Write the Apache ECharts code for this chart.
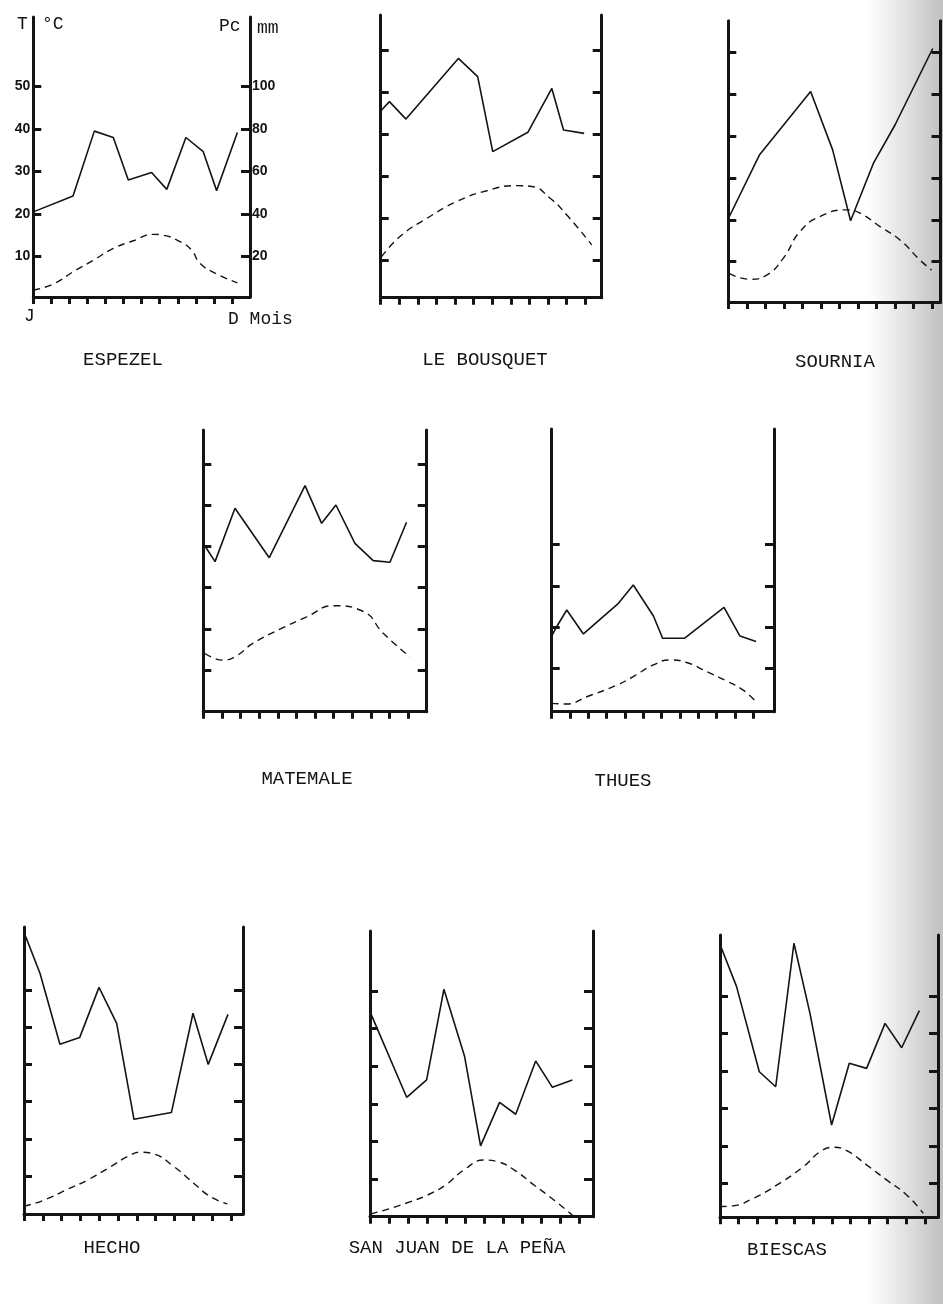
<!DOCTYPE html>
<html><head><meta charset="utf-8">
<script src="https://cdn.jsdelivr.net/npm/echarts@6/dist/echarts.min.js"></script>
<style>html,body{margin:0;padding:0;background:#fff}#c{width:943px;height:1304px}</style>
</head><body><div id="c"></div>
<script>
// ---- data (x = month position, J = 0 ... D = 11; precipitation in mm, temperature in °C) ----
const STATIONS = ['ESPEZEL','LE BOUSQUET','SOURNIA','MATEMALE','THUES','HECHO','SAN JUAN DE LA PEÑA','BIESCAS'];

const ESPEZEL_P_X = [0, 2.2, 3.38, 4.43, 5.26, 6.55, 7.39, 8.45, 9.41, 10.15, 11.3];
const ESPEZEL_P   = [41, 48.5, 79, 76, 56, 59.5, 51.6, 76, 69.3, 51, 78.4];
const ESPEZEL_T_X = [0, 1.1, 2.2, 3.36, 4.43, 5.54, 6.64, 7.2, 8.12, 8.77, 9.23, 10.15, 11.3];
const ESPEZEL_T   = [2.1, 3.5, 6.4, 9.2, 11.9, 13.7, 15.2, 15, 13.5, 11.5, 8.4, 5.9, 3.8];

const BOUSQUET_P_X = [0.05, 0.47, 1.36, 4.18, 5.22, 6.03, 7.92, 9.21, 9.84, 10.95];
const BOUSQUET_P   = [91.4, 95.4, 87.1, 116, 107.3, 71.6, 80.8, 101.7, 81.9, 80.3];
const BOUSQUET_T_X = [0.05, 1.04, 2.48, 4.09, 5.71, 7.32, 8.13, 9.12, 10.02, 11.36];
const BOUSQUET_T   = [10.8, 15.6, 19.9, 23.9, 26.5, 27.7, 27.5, 24.7, 20.7, 13.6];

const SOURNIA_P_X = [0.05, 1.68, 4.45, 5.64, 6.61, 7.84, 9.01, 11.05];
const SOURNIA_P   = [41.5, 71, 101.4, 73.5, 39.6, 67, 85.4, 122];
const SOURNIA_T_X = [0.05, 1.17, 2.07, 2.97, 3.87, 4.95, 6.4, 7.12, 8.2, 9.28, 10.36, 10.99];
const SOURNIA_T   = [7.2, 5.8, 6.8, 10.8, 17.2, 20.8, 22.4, 21.6, 18.4, 15.2, 10.4, 8.0];

const MATEMALE_P_X = [0.09, 0.63, 1.7, 3.54, 5.46, 6.35, 7.12, 8.14, 9.12, 10.02, 10.91];
const MATEMALE_P   = [80.2, 72.6, 98.5, 74.5, 109.5, 91.2, 100.1, 81.5, 73.1, 72.3, 91.7];
const MATEMALE_T_X = [0.09, 1.07, 1.7, 2.68, 4.11, 5.55, 6.98, 8.59, 9.66, 11.09];
const MATEMALE_T   = [14.0, 12.4, 13.2, 16.5, 19.9, 22.9, 25.6, 24.2, 18.9, 13.2];

const THUES_P_X = [0, 0.27, 0.82, 1.73, 3.64, 4.45, 5.55, 6.05, 7.24, 9.4, 10.27, 11.15];
const THUES_P   = [35.8, 40.3, 48.4, 36.8, 51.6, 60.5, 45.5, 34.7, 34.7, 49.7, 35.8, 33.1];
const THUES_T_X = [0, 0.82, 1.91, 3.55, 4.45, 5.55, 6.45, 7.36, 8.45, 9.55, 10.45, 11.22];
const THUES_T   = [1.6, 1.45, 3.2, 6.0, 8.1, 10.9, 12.1, 11.5, 9.3, 7.0, 4.8, 1.6];

const HECHO_P_X = [0.09, 0.85, 1.91, 2.96, 3.99, 4.93, 5.85, 7.84, 8.99, 9.8, 10.85];
const HECHO_P   = [148.7, 129, 90.8, 94.4, 121.4, 102.1, 50.5, 54.1, 107.5, 80, 106.9];
const HECHO_T_X = [0, 1.06, 2.3, 3.37, 4.61, 5.5, 6.21, 6.91, 7.98, 9.04, 9.93, 10.82];
const HECHO_T   = [1.9, 3.5, 6.4, 8.9, 12.5, 15.2, 16.4, 15.9, 12.5, 8.0, 4.4, 2.5];

const SANJUAN_P_X = [0.07, 1.93, 2.98, 3.89, 4.98, 5.82, 6.82, 7.67, 8.72, 9.6, 10.65];
const SANJUAN_P   = [107.2, 63.5, 72.7, 120.8, 85.1, 37.7, 60.8, 54.5, 82.8, 68.8, 72.7];
const SANJUAN_T_X = [0.04, 1.09, 2.14, 3.02, 3.98, 4.95, 6.0, 6.7, 7.58, 8.63, 9.68, 10.65];
const SANJUAN_T   = [0.8, 2.3, 4.1, 5.8, 8.5, 12.5, 15.1, 14.7, 12.5, 8.5, 4.5, 0.5];

const BIESCAS_P_X = [0.05, 0.89, 2.11, 2.99, 3.97, 4.83, 5.99, 6.94, 7.87, 8.86, 9.75, 10.7];
const BIESCAS_P   = [146.2, 124.9, 79.5, 71.5, 148, 110.6, 51.1, 84, 81.3, 105.3, 92.3, 112.1];
const BIESCAS_T_X = [0, 0.72, 1.79, 3.04, 4.47, 5.37, 6.08, 6.8, 7.87, 8.94, 10.02, 10.91];
const BIESCAS_T   = [3.8, 4.0, 6.0, 9.5, 14.4, 18.4, 19.6, 18.7, 14.9, 10.9, 6.9, 2.0];

const MONTH_TICKS = [0,1,2,3,4,5,6,7,8,9,10,11];
const TEMP_TICKS  = [10,20,30,40,50,60];
const PREC_TICKS  = [20,40,60,80,100,120];
const TEMP_LABELS = [10,20,30,40,50];
const PREC_LABELS = [20,40,60,80,100];

const P_X = [ESPEZEL_P_X,BOUSQUET_P_X,SOURNIA_P_X,MATEMALE_P_X,THUES_P_X,HECHO_P_X,SANJUAN_P_X,BIESCAS_P_X];
const P_V = [ESPEZEL_P,BOUSQUET_P,SOURNIA_P,MATEMALE_P,THUES_P,HECHO_P,SANJUAN_P,BIESCAS_P];
const T_X = [ESPEZEL_T_X,BOUSQUET_T_X,SOURNIA_T_X,MATEMALE_T_X,THUES_T_X,HECHO_T_X,SANJUAN_T_X,BIESCAS_T_X];
const T_V = [ESPEZEL_T,BOUSQUET_T,SOURNIA_T,MATEMALE_T,THUES_T,HECHO_T,SANJUAN_T,BIESCAS_T];

// ---- layout (pixels) ----
const LAYOUT = [
  {L:33.3, R:250,   T:17,    B:297,    y0:299,    ppd:42.5, step:18.06, n:5, lx:123, ly:360},
  {L:380.7,R:601.7, T:15,    B:297.7,  y0:302,    ppd:42,   step:18.58, n:6, lx:485, ly:360},
  {L:728.3,R:940.5, T:20.7,  B:302,    y0:303.5,  ppd:41.8, step:18.5,  n:6, lx:835, ly:362},
  {L:203.3,R:426.7, T:430,   B:711.7,  y0:711.2,  ppd:41.2, step:18.63, n:6, lx:307, ly:779},
  {L:551.7,R:774,   T:429,   B:711.7,  y0:710,    ppd:41.33,step:18.33, n:4, lx:623, ly:781},
  {L:24,   R:243,   T:927,   B:1214,   y0:1213.2, ppd:37.2, step:18.8,  n:6, lx:112, ly:1248},
  {L:370,  R:593,   T:931,   B:1216.7, y0:1217,   ppd:37.7, step:19,    n:6, lx:457, ly:1248},
  {L:720,  R:938,   T:935,   B:1217.3, y0:1220.8, ppd:37.5, step:18.63, n:6, lx:787, ly:1250}
];
const INK = '#141414';
const MONO = "'Liberation Mono','DejaVu Sans Mono',monospace";

const zip = (xs, ys) => xs.map((x, k) => [x, ys[k]]);
const grids = [], xAxes = [], yAxes = [], series = [], texts = [];

STATIONS.forEach((name, i) => {
  const g = LAYOUT[i];
  const ymin = (g.y0 - g.B) / g.ppd * 10;
  const ymax = (g.y0 - g.T) / g.ppd * 10;
  const xmax = (g.R - g.L) / g.step;
  const axisLine = {show:true, onZero:false, lineStyle:{color:INK, width:3}};
  const tickStyle = {color:INK, width:3};
  grids.push({left:g.L, top:g.T, width:g.R - g.L, height:g.B - g.T, containLabel:false, outerBoundsMode:'none'});
  xAxes.push({gridIndex:i, type:'value', min:0, max:xmax, axisLine,
    axisTick:{show:true, length:7, customValues:MONTH_TICKS, lineStyle:tickStyle},
    axisLabel:{show:false}, splitLine:{show:false}});
  const labelStyle = {color:INK, fontWeight:'bold', fontSize:14, fontFamily:"'Liberation Sans Narrow','Liberation Sans',Arial,sans-serif"};
  yAxes.push({gridIndex:i, type:'value', position:'left', min:ymin, max:ymax, axisLine,
    axisTick:{show:true, inside:true, length:8, customValues:TEMP_TICKS.slice(0, g.n), lineStyle:tickStyle},
    axisLabel:Object.assign({show:i === 0, margin:3, customValues:TEMP_LABELS}, labelStyle),
    splitLine:{show:false}});
  yAxes.push({gridIndex:i, type:'value', position:'right', min:2 * ymin, max:2 * ymax, axisLine,
    axisTick:{show:true, inside:true, length:9, customValues:PREC_TICKS.slice(0, g.n), lineStyle:tickStyle},
    axisLabel:Object.assign({show:i === 0, margin:2, customValues:PREC_LABELS}, labelStyle),
    splitLine:{show:false}});
  series.push({type:'line', name:name + ' P', xAxisIndex:i, yAxisIndex:2 * i + 1, data:zip(P_X[i], P_V[i]),
    showSymbol:false, smooth:false, lineStyle:{color:INK, width:1.6}, silent:true, animation:false});
  series.push({type:'line', name:name + ' T', xAxisIndex:i, yAxisIndex:2 * i, data:zip(T_X[i], T_V[i]),
    showSymbol:false, smooth:0.5, lineStyle:{color:INK, width:1.4, type:[7,5]}, silent:true, animation:false});
  texts.push({type:'text', x:g.lx, y:g.ly, z:100,
    style:{text:name, fill:INK, font:"19px " + MONO, textAlign:'center', textVerticalAlign:'middle'}});
});

// axis titles of the first (key) diagram
const KEY_TEXTS = [
  ['T', 17, 24], ['°C', 42, 24], ['Pc', 219, 26], ['mm', 257, 28], ['J', 24, 316], ['D Mois', 228, 319]
];
KEY_TEXTS.forEach(([t, x, y]) => texts.push({type:'text', x, y, z:100,
  style:{text:t, fill:INK, font:"18px " + MONO, textAlign:'left', textVerticalAlign:'middle'}}));

const chart = echarts.init(document.getElementById('c'), null, {renderer:'canvas'});
chart.setOption({
  animation:false,
  backgroundColor:'#ffffff',
  grid:grids, xAxis:xAxes, yAxis:yAxes, series,
  graphic:{elements:[
    {type:'rect', z:-10, silent:true, shape:{x:868, y:0, width:75, height:1304},
     style:{fill:new echarts.graphic.LinearGradient(0,0,1,0,[
       {offset:0, color:'rgba(150,150,150,0)'},
       {offset:0.45, color:'rgba(150,150,150,0.25)'},
       {offset:1, color:'rgba(150,150,150,0.6)'}])}}
  ].concat(texts)}
});
</script></body></html>
